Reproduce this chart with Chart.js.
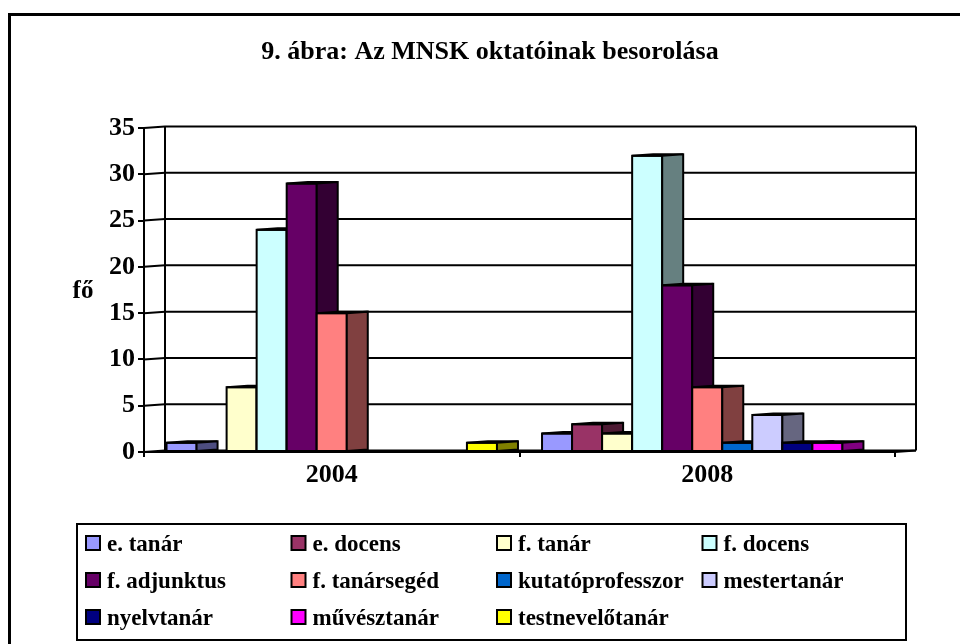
<!DOCTYPE html>
<html>
<head>
<meta charset="utf-8">
<script src="https://cdn.jsdelivr.net/npm/chart.js@4.4.1/dist/chart.umd.min.js"></script>
<style>
  html, body { margin: 0; padding: 0; background: #fff; }
  #wrap { width: 960px; height: 644px; }
</style>
</head>
<body>
<div id="wrap"><canvas id="chart" width="960" height="644"></canvas></div>
<script>
// data
var categories = ['2004', '2008'];
var seriesNames = ['e. tanár', 'e. docens', 'f. tanár', 'f. docens', 'f. adjunktus', 'f. tanársegéd',
                   'kutatóprofesszor', 'mestertanár', 'nyelvtanár', 'művésztanár', 'testnevelőtanár'];
var values2004 = [1, 0, 7, 24, 29, 15, 0, 0, 0, 0, 1];
var values2008 = [2, 3, 2, 32, 18, 7, 1, 4, 1, 1, 0];
var yTickStep = 5, yMax = 35;

var frontColors = ['#9999FF', '#993366', '#FFFFCC', '#CCFFFF', '#660066', '#FF8080',
                   '#0066CC', '#CCCCFF', '#000080', '#FF00FF', '#FFFF00'];
var sideColors  = ['#4D4D80', '#4D1A33', '#808066', '#668080', '#330033', '#804040',
                   '#003366', '#666680', '#000040', '#800080', '#808000'];

var FONT = '"Liberation Serif", "Times New Roman", serif';
var DX = 21, DY = -1.5;   // depth of the 3d look

function poly(ctx, pts, fill){
    ctx.beginPath();
    ctx.moveTo(pts[0][0], pts[0][1]);
    for (var p = 1; p < pts.length; p++) ctx.lineTo(pts[p][0], pts[p][1]);
    ctx.closePath();
    if (fill) { ctx.fillStyle = fill; ctx.fill(); }
    ctx.stroke();
}

var excel3d = {
    id: 'excel3d',
    beforeDatasetsDraw: function(chart){
        var ctx = chart.ctx, a = chart.chartArea, ys = chart.scales.y;
        ctx.save();
        ctx.strokeStyle = '#000';
        ctx.lineWidth = 2;
        // back wall grid lines + left wall connectors
        for (var v = 0; v <= yMax; v += yTickStep){
            var py = ys.getPixelForValue(v);
            ctx.beginPath();
            ctx.moveTo(a.left, py);
            ctx.lineTo(a.left + DX, py + DY);
            ctx.lineTo(a.right + DX, py + DY);
            ctx.stroke();
        }
        var top = ys.getPixelForValue(yMax) + DY, bot = ys.getPixelForValue(0) + DY;
        ctx.beginPath();
        ctx.moveTo(a.left + DX, top); ctx.lineTo(a.left + DX, bot);
        ctx.moveTo(a.right + DX, top); ctx.lineTo(a.right + DX, bot);
        ctx.moveTo(a.right, a.bottom); ctx.lineTo(a.right + DX, bot);
        ctx.stroke();
        ctx.restore();
    },
    afterDatasetsDraw: function(chart){
        var ctx = chart.ctx;
        ctx.save();
        ctx.strokeStyle = '#000';
        ctx.lineWidth = 2;
        for (var j = 0; j < categories.length; j++){
            for (var i = 0; i < seriesNames.length; i++){
                var v = chart.data.datasets[i].data[j];
                if (!v) continue;
                var bar = chart.getDatasetMeta(i).data[j];
                var l = bar.x - bar.width / 2, r = bar.x + bar.width / 2, t = bar.y, b = bar.base;
                ctx.fillStyle = frontColors[i];
                ctx.fillRect(l, t, r - l, b - t);
                ctx.strokeRect(l, t, r - l, b - t);
                poly(ctx, [[l, t], [r, t], [r + DX, t + DY], [l + DX, t + DY]], frontColors[i]);
                poly(ctx, [[r, t], [r + DX, t + DY], [r + DX, b + DY], [r, b]], sideColors[i]);
            }
        }
        ctx.restore();
    },
    afterDraw: function(chart){
        var ctx = chart.ctx;
        ctx.save();
        // outer frame
        ctx.strokeStyle = '#000';
        ctx.lineWidth = 3;
        ctx.beginPath();
        ctx.moveTo(9.5, 660); ctx.lineTo(9.5, 14.5); ctx.lineTo(970, 14.5);
        ctx.stroke();

        // axis title, written horizontally
        ctx.fillStyle = '#000';
        ctx.font = 'bold 25px ' + FONT;
        ctx.textAlign = 'center';
        ctx.textBaseline = 'alphabetic';
        ctx.fillText('fő', 83, 298);

        // legend box with 4 fixed columns
        ctx.lineWidth = 2;
        ctx.strokeRect(77, 524, 829, 116);
        ctx.font = 'bold 23px ' + FONT;
        ctx.textAlign = 'left';
        for (var k = 0; k < seriesNames.length; k++){
            var x = 86 + (k % 4) * 205.5, y = 536 + Math.floor(k / 4) * 37;
            ctx.fillStyle = frontColors[k];
            ctx.fillRect(x, y, 14, 14);
            ctx.strokeRect(x, y, 14, 14);
            ctx.fillStyle = '#000';
            ctx.fillText(seriesNames[k], x + 21, y + 15);
        }
        ctx.restore();
    }
};

var datasets = seriesNames.map(function(name, i){
    return {
        label: name,
        data: [values2004[i], values2008[i]],
        backgroundColor: frontColors[i],
        borderWidth: 0
    };
});

var tickFont = { family: FONT, size: 26, weight: 'bold' };

new Chart(document.getElementById('chart').getContext('2d'), {
    type: 'bar',
    data: { labels: categories, datasets: datasets },
    options: {
        responsive: false,
        animation: false,
        layout: { padding: { left: 85, right: 65, top: 0, bottom: 0 } },
        datasets: { bar: { categoryPercentage: 0.88, barPercentage: 1.0 } },
        plugins: {
            legend: { display: false },
            tooltip: { enabled: false },
            title: {
                display: true,
                text: '9. ábra: Az MNSK oktatóinak besorolása',
                color: '#000',
                font: { family: FONT, size: 26, weight: 'bold' },
                padding: { top: 37, bottom: 59.8 }
            }
        },
        scales: {
            x: {
                ticks: { color: '#000', font: tickFont, padding: 3 },
                grid: { drawOnChartArea: false, offset: true, tickLength: 5, color: '#000', lineWidth: 2 },
                border: { color: '#000', width: 2 },
                afterFit: function(scale){ scale.height = 192; }
            },
            y: {
                min: 0, max: yMax,
                ticks: { stepSize: yTickStep, color: '#000', font: tickFont, padding: 3 },
                grid: { drawOnChartArea: false, tickLength: 6, color: '#000', lineWidth: 2 },
                border: { color: '#000', width: 2 },
                afterFit: function(scale){ scale.width = 59; }
            }
        }
    },
    plugins: [excel3d]
});
</script>
</body>
</html>
